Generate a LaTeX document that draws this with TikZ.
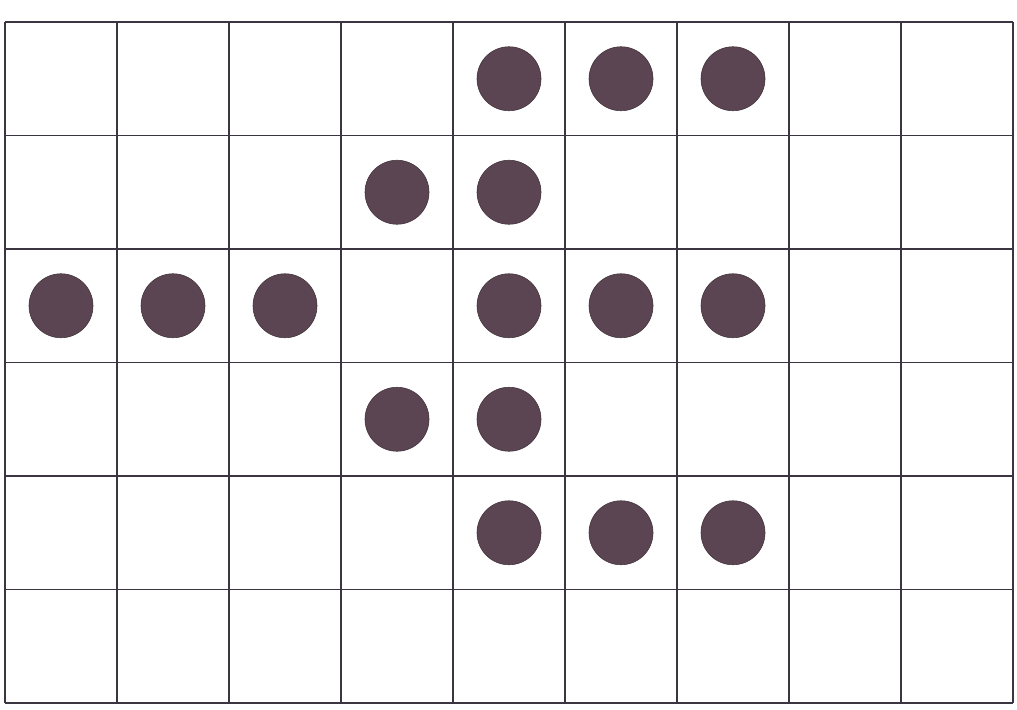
\documentclass[tikz,border=0pt]{standalone}
\usepackage{xcolor}
\usepackage{tikz}
\definecolor{gridink}{HTML}{3A3540}
\definecolor{stoneink}{HTML}{5B4552}
\tikzset{
  stone/.style={circle, fill=stoneink, draw=stoneink!70!black, line width=0.4pt,
    minimum size=1.6cm, inner sep=0pt},
  gridline/.style={gridink, line width=0.9pt}
}
\begin{document}
\begin{tikzpicture}[x=0.025cm, y=-0.025cm]
  \useasboundingbox (0,0) rectangle (1017,709);
  % grid of 9 x 6 cells
  \foreach \c in {0,...,9}
    \draw[gridline] (5+\c*112,22) -- (5+\c*112,703);
  \foreach \r in {0,...,6}
    \draw[gridline] (5,22+\r*113.5) -- (1013,22+\r*113.5);
  % stones, given as column/row
  \foreach \c/\r in {4/0,5/0,6/0, 3/1,4/1, 0/2,1/2,2/2,4/2,5/2,6/2,
                     3/3,4/3, 4/4,5/4,6/4}
    \node[stone] (s\c\r) at (5+\c*112+56,22+\r*113.5+56.75) {};
\end{tikzpicture}
\end{document}
